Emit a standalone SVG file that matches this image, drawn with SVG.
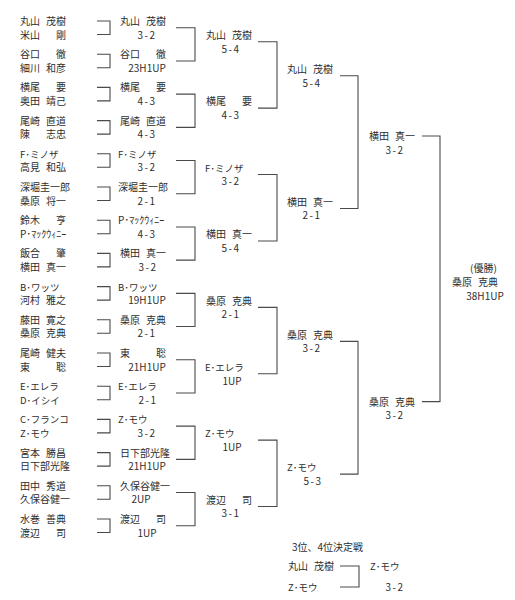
<svg xmlns="http://www.w3.org/2000/svg" width="515" height="600" viewBox="0 0 515 600">
<style>
text{font-family:"Noto Sans CJK JP","Noto Sans CJK SC",sans-serif;font-size:10px;fill:#2e2e2e}
.s{text-anchor:middle}
.d{letter-spacing:1.5px}
.k{font-size:9.5px}
.c path{fill:none;stroke:#4a4a4a;stroke-width:1.1}
</style>
<rect width="515" height="600" fill="#fff"/>
<g class="c" id="connectors">
<path d="M97,21H110V34.5H97M97,54.2H110V67.7H97M97,87.4H110V100.9H97M97,120.6H110V134.1H97M97,153.8H110V167.3H97M97,187H110V200.5H97M97,220.2H110V233.7H97M97,253.4H110V266.9H97M97,286.6H110V300.1H97M97,319.8H110V333.3H97M97,353H110V366.5H97M97,386.2H110V399.7H97M97,419.4H110V432.9H97M97,452.6H110V466.1H97M97,485.8H110V499.3H97M97,519H110V532.5H97"/>
<path d="M176,27.75H195V60.95H176M176,94.15H195V127.35H176M176,160.55H195V193.75H176M176,226.95H195V260.15H176M176,293.35H195V326.55H176M176,359.75H195V392.95H176M176,426.15H195V459.35H176M176,492.55H195V525.75H176"/>
<path d="M258,41.75H277V108.15H258M258,174.55H277V240.95H258M258,307.35H277V373.75H258M258,440.15H277V506.55H258"/>
<path d="M340,75.75H358V208.55H340M340,341.35H358V474.15H340"/>
<path d="M422,136H440V401.6H422"/>
<path d="M340,566H359V587H340"/>
</g>
<g id="r1">
<g id="p0"><text x="20" y="25">丸山<tspan x="46">茂樹</tspan></text><text x="20" y="38.5">米山<tspan x="56">剛</tspan></text></g>
<g id="p1"><text x="20" y="58.2">谷口<tspan x="56">徹</tspan></text><text x="20" y="71.7">細川<tspan x="46">和彦</tspan></text></g>
<g id="p2"><text x="20" y="91.4">横尾<tspan x="56">要</tspan></text><text x="20" y="104.9">奥田<tspan x="46">靖己</tspan></text></g>
<g id="p3"><text x="20" y="124.6">尾崎<tspan x="46">直道</tspan></text><text x="20" y="138.1">陳<tspan x="46">志忠</tspan></text></g>
<g id="p4"><text class="k" x="20" y="157.8">F･ミノザ</text><text x="20" y="171.3">高見<tspan x="46">和弘</tspan></text></g>
<g id="p5"><text x="20" y="191">深堀圭一郎</text><text x="20" y="204.5">桑原<tspan x="46">将一</tspan></text></g>
<g id="p6"><text x="20" y="224.2">鈴木<tspan x="56">亨</tspan></text><text x="20" y="237.7">P･ﾏｯｸｳｨﾆｰ</text></g>
<g id="p7"><text x="20" y="257.4">飯合<tspan x="56">肇</tspan></text><text x="20" y="270.9">横田<tspan x="46">真一</tspan></text></g>
<g id="p8"><text class="k" x="20" y="290.6">B･ワッツ</text><text x="20" y="304.1">河村<tspan x="46">雅之</tspan></text></g>
<g id="p9"><text x="20" y="323.8">藤田<tspan x="46">寛之</tspan></text><text x="20" y="337.3">桑原<tspan x="46">克典</tspan></text></g>
<g id="p10"><text x="20" y="357">尾崎<tspan x="46">健夫</tspan></text><text x="20" y="370.5">東<tspan x="56">聡</tspan></text></g>
<g id="p11"><text class="k" x="20" y="390.2">E･エレラ</text><text class="k" x="20" y="403.7">D･イシイ</text></g>
<g id="p12"><text class="k" x="20" y="423.4">C･フランコ</text><text class="k" x="20" y="436.9">Z･モウ</text></g>
<g id="p13"><text x="20" y="456.6">宮本<tspan x="46">勝昌</tspan></text><text x="20" y="470.1">日下部光隆</text></g>
<g id="p14"><text x="20" y="489.8">田中<tspan x="46">秀道</tspan></text><text x="20" y="503.3">久保谷健一</text></g>
<g id="p15"><text x="20" y="523">水巻<tspan x="46">善典</tspan></text><text x="20" y="536.5">渡辺<tspan x="56">司</tspan></text></g>
</g>
<g id="r2">
<g id="w2-0"><text x="120" y="25">丸山<tspan x="146">茂樹</tspan></text><text class="s d" x="147" y="38.5">3-2</text></g>
<g id="w2-1"><text x="120" y="58.2">谷口<tspan x="156">徹</tspan></text><text class="s" x="147" y="71.7">23H1UP</text></g>
<g id="w2-2"><text x="120" y="91.4">横尾<tspan x="156">要</tspan></text><text class="s d" x="147" y="104.9">4-3</text></g>
<g id="w2-3"><text x="120" y="124.6">尾崎<tspan x="146">直道</tspan></text><text class="s d" x="147" y="138.1">4-3</text></g>
<g id="w2-4"><text class="k" x="118" y="157.8">F･ミノザ</text><text class="s d" x="147" y="171.3">3-2</text></g>
<g id="w2-5"><text x="118" y="191">深堀圭一郎</text><text class="s d" x="147" y="204.5">2-1</text></g>
<g id="w2-6"><text x="118" y="224.2">P･ﾏｯｸｳｨﾆｰ</text><text class="s d" x="147" y="237.7">4-3</text></g>
<g id="w2-7"><text x="120" y="257.4">横田<tspan x="146">真一</tspan></text><text class="s d" x="148" y="270.9">3-2</text></g>
<g id="w2-8"><text class="k" x="118" y="290.6">B･ワッツ</text><text class="s" x="147" y="304.1">19H1UP</text></g>
<g id="w2-9"><text x="120" y="323.8">桑原<tspan x="146">克典</tspan></text><text class="s d" x="147" y="337.3">2-1</text></g>
<g id="w2-10"><text x="120" y="357">東<tspan x="156">聡</tspan></text><text class="s" x="147" y="370.5">21H1UP</text></g>
<g id="w2-11"><text class="k" x="118" y="390.2">E･エレラ</text><text class="s d" x="148" y="403.7">2-1</text></g>
<g id="w2-12"><text class="k" x="118" y="423.4">Z･モウ</text><text class="s d" x="147" y="436.9">3-2</text></g>
<g id="w2-13"><text x="120" y="456.6">日下部光隆</text><text class="s" x="147" y="470.1">21H1UP</text></g>
<g id="w2-14"><text x="120" y="489.8">久保谷健一</text><text class="s" x="141" y="503.3">2UP</text></g>
<g id="w2-15"><text x="120" y="523">渡辺<tspan x="156">司</tspan></text><text class="s" x="147" y="536.5">1UP</text></g>
</g>
<g id="r3">
<g id="w3-0"><text x="206" y="39">丸山<tspan x="232">茂樹</tspan></text><text class="s d" x="231" y="52.5">5-4</text></g>
<g id="w3-1"><text x="206" y="105.4">横尾<tspan x="242">要</tspan></text><text class="s d" x="231" y="118.9">4-3</text></g>
<g id="w3-2"><text class="k" x="205" y="171.8">F･ミノザ</text><text class="s d" x="231" y="185.3">3-2</text></g>
<g id="w3-3"><text x="206" y="238.2">横田<tspan x="232">真一</tspan></text><text class="s d" x="231" y="251.7">5-4</text></g>
<g id="w3-4"><text x="206" y="304.6">桑原<tspan x="232">克典</tspan></text><text class="s d" x="231" y="318.1">2-1</text></g>
<g id="w3-5"><text class="k" x="205" y="371">E･エレラ</text><text class="s" x="232" y="384.5">1UP</text></g>
<g id="w3-6"><text class="k" x="205" y="437.4">Z･モウ</text><text class="s" x="232" y="450.9">1UP</text></g>
<g id="w3-7"><text x="206" y="503.8">渡辺<tspan x="242">司</tspan></text><text class="s d" x="231" y="517.3">3-1</text></g>
</g>
<g id="r4">
<g id="w4-0"><text x="287" y="73">丸山<tspan x="313">茂樹</tspan></text><text class="s d" x="312" y="86.5">5-4</text></g>
<g id="w4-1"><text x="287" y="205.8">横田<tspan x="313">真一</tspan></text><text class="s d" x="312" y="219.3">2-1</text></g>
<g id="w4-2"><text x="287" y="338.6">桑原<tspan x="313">克典</tspan></text><text class="s d" x="312" y="352.1">3-2</text></g>
<g id="w4-3"><text class="k" x="287" y="471.4">Z･モウ</text><text class="s d" x="313" y="484.9">5-3</text></g>
</g>
<g id="r5">
<g id="w5-0"><text x="369" y="140">横田<tspan x="395">真一</tspan></text><text class="s d" x="395" y="153.5">3-2</text></g>
<g id="w5-1"><text x="369" y="405.6">桑原<tspan x="395">克典</tspan></text><text class="s d" x="395" y="419.1">3-2</text></g>
</g>
<g id="champion"><text x="470" y="272">(優勝)</text><text x="452" y="286">桑原<tspan x="478">克典</tspan></text><text class="s" x="485" y="300">38H1UP</text></g>
<g id="third">
<text x="292" y="551">3位、4位決定戦</text>
<g id="t0"><text x="288" y="570">丸山<tspan x="314">茂樹</tspan></text></g>
<g id="t1"><text class="k" x="288" y="591">Z･モウ</text></g>
<g id="t-win"><text class="k" x="370" y="570">Z･モウ</text><text class="s d" x="395" y="591">3-2</text></g>
</g>
</svg>
